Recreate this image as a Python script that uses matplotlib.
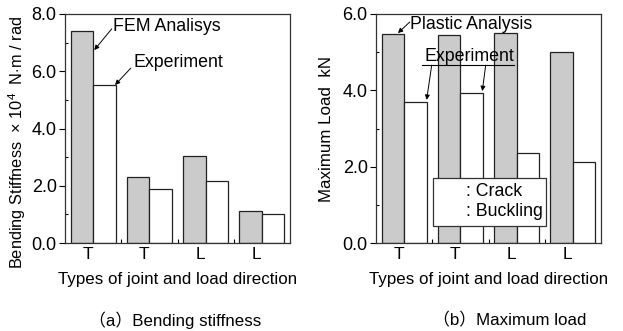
import numpy as np
import matplotlib
matplotlib.use('Agg')
import matplotlib.pyplot as plt
from matplotlib.patches import Rectangle

plt.rcParams['font.family'] = ['Liberation Sans', 'Noto Sans CJK SC', 'DejaVu Sans']
plt.rcParams['mathtext.fontset'] = 'custom'
plt.rcParams['mathtext.rm'] = 'Liberation Sans'
plt.rcParams['font.size'] = 12

joint_labels = ['T', 'T', 'L', 'L']
stiff_fem = [7.42, 2.30, 3.05, 1.13]
stiff_exp = [5.52, 1.88, 2.18, 1.00]
load_plastic = [5.48, 5.44, 5.49, 5.00]
load_exp = [3.69, 3.94, 2.37, 2.12]

gray = '#cbcbcb'
edge = '#222222'
w = 0.4
x = np.arange(len(joint_labels))

fig = plt.figure(figsize=(6.23, 3.31), dpi=100)
axL = fig.add_axes([65/623, 88/331, 225/623, 229/331])
axR = fig.add_axes([376/623, 88/331, 225/623, 229/331])

def style(ax, ymax, ystep):
  ax.set_xlim(-0.5, 3.5)
  ax.set_ylim(0, ymax)
  ax.set_yticks(np.arange(0, ymax + 0.01, ystep))
  ax.set_yticklabels([f'{v:.1f}' for v in np.arange(0, ymax + 0.01, ystep)])
  ax.set_yticks(np.arange(ystep/2, ymax, ystep), minor=True)
  ax.tick_params(axis='y', which='major', direction='out', length=4, width=0.8, labelsize=13, pad=2)
  ax.tick_params(axis='y', which='minor', direction='in', length=2.5, width=0.8)
  ax.set_xticks(x - 0.1)
  ax.set_xticklabels(joint_labels)
  ax.set_xticks([0.5, 1.5, 2.5], minor=True)
  ax.tick_params(axis='x', which='major', length=0, labelsize=12.5, pad=3)
  ax.tick_params(axis='x', which='minor', direction='in', length=3, width=0.8)
  for s in ax.spines.values():
    s.set_linewidth(0.9)
    s.set_color('#333333')
  ax.set_xlabel('Types of joint and load direction', fontsize=12.2)
  ax.xaxis.set_label_coords(0.5, -0.125)

arrow = dict(arrowstyle='-|>', lw=0.7, color='k', mutation_scale=7, shrinkA=0, shrinkB=0)

# (a) bending stiffness
axL.bar(x - w/2, stiff_fem, w, color=gray, edgecolor=edge, linewidth=0.9)
axL.bar(x + w/2, stiff_exp, w, color='white', edgecolor=edge, linewidth=0.9)
style(axL, 8, 2)
axL.set_ylabel(r'Bending Stiffness  $\times$ 10$^4$  N$\cdot$m / rad', fontsize=11.8)
axL.yaxis.set_label_coords(-0.165, 0.44)
axL.text(0.36, 7.58, 'FEM Analisys', va='center', ha='left', fontsize=12.8)
axL.annotate('', xy=(0.02, 6.74), xytext=(0.33, 7.48), arrowprops=arrow)
axL.text(0.71, 6.29, 'Experiment', va='center', ha='left', fontsize=12.8)
axL.annotate('', xy=(0.39, 5.52), xytext=(0.67, 6.11), arrowprops=arrow)

# (b) maximum load
axR.bar(x - w/2, load_plastic, w, color=gray, edgecolor=edge, linewidth=0.9)
axR.bar(x + w/2, load_exp, w, color='white', edgecolor=edge, linewidth=0.9)
style(axR, 6, 2)
axR.set_ylabel('Maximum Load  kN', fontsize=12.2)
axR.yaxis.set_label_coords(-0.185, 0.5)
axR.text(0.11, 5.72, 'Plastic Analysis', va='center', ha='left', fontsize=12.8)
axR.annotate('', xy=(-0.11, 5.50), xytext=(0.10, 5.79), arrowprops=arrow)
axR.text(0.37, 4.88, 'Experiment', va='center', ha='left', fontsize=12.8)
axR.plot([0.32, 1.95], [4.66, 4.66], color='k', lw=0.8)
axR.annotate('', xy=(0.40, 3.75), xytext=(0.49, 4.66), arrowprops=arrow)
axR.annotate('', xy=(1.39, 3.98), xytext=(1.45, 4.66), arrowprops=arrow)

axR.add_patch(Rectangle((0.252, 0.074), 0.504, 0.209, transform=axR.transAxes,
                        facecolor='white', edgecolor='#333333', lw=0.9, zorder=5))
axR.text(0.40, 0.224, ': Crack', transform=axR.transAxes, va='center', ha='left', fontsize=12.8, zorder=6)
axR.text(0.40, 0.137, ': Buckling', transform=axR.transAxes, va='center', ha='left', fontsize=12.8, zorder=6)

fig.text(175/623, 0.033, '（a）Bending stiffness', ha='center', va='center', fontsize=12.2)
fig.text(510/623, 0.033, '（b）Maximum load', ha='center', va='center', fontsize=12.2)

fig.savefig('out.png', dpi=100)
